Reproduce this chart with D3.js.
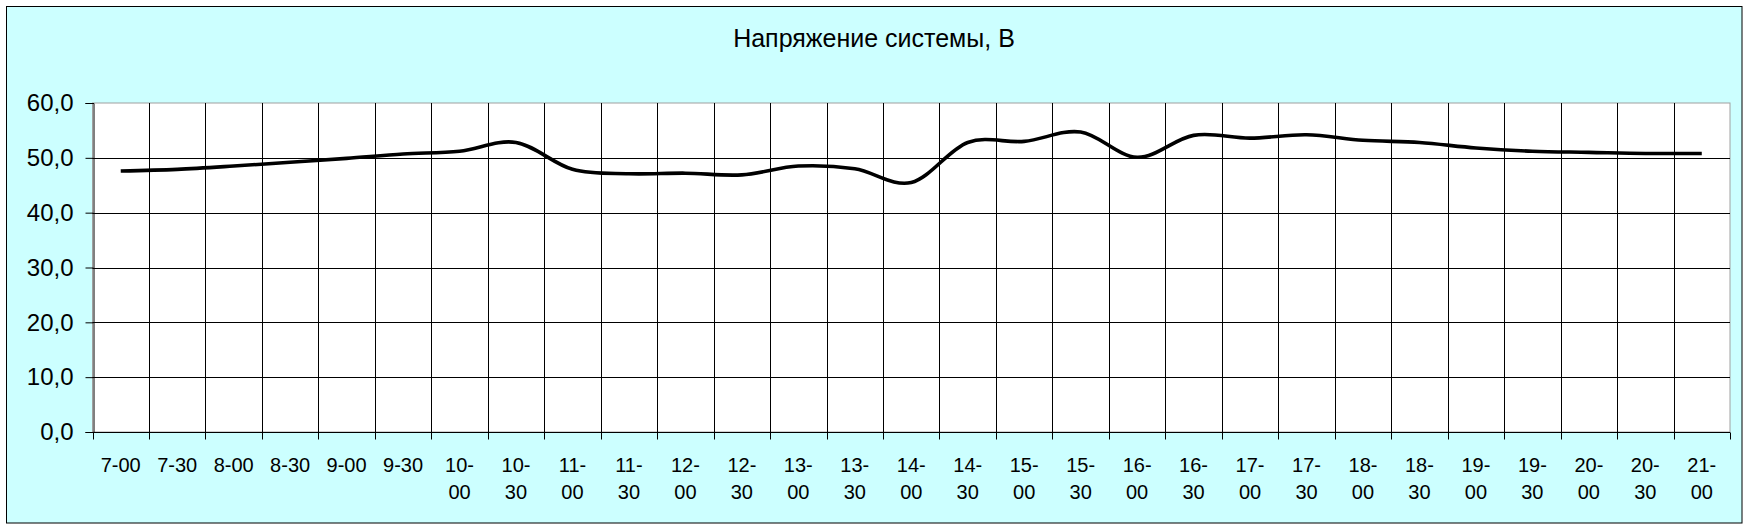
<!DOCTYPE html>
<html>
<head>
<meta charset="utf-8">
<script src="https://cdn.jsdelivr.net/npm/d3@7"></script>
<style>
  html, body { margin: 0; padding: 0; background: #ffffff; }
  svg { display: block; font-family: "Liberation Sans", Arial, sans-serif; }
</style>
</head>
<body>
<svg id="chart" width="1750" height="530"></svg>
<script>
const title = "Напряжение системы, В";
const categories = ["7-00","7-30","8-00","8-30","9-00","9-30","10-00","10-30","11-00","11-30",
  "12-00","12-30","13-00","13-30","14-00","14-30","15-00","15-30","16-00","16-30",
  "17-00","17-30","18-00","18-30","19-00","19-30","20-00","20-30","21-00"];
const voltage = [47.6, 47.9, 48.5, 49.2, 49.9, 50.7, 51.2, 52.8, 47.9, 47.1,
  47.2, 46.9, 48.5, 48.0, 45.5, 52.8, 53.0, 54.7, 50.1, 54.1,
  53.6, 54.2, 53.2, 52.8, 51.8, 51.2, 51.0, 50.8, 50.8];
const yTicks = [0, 10, 20, 30, 40, 50, 60];

const svg = d3.select("#chart");
const plot = { left: 92.5, right: 1730, top: 103, bottom: 432 };

// chart background + border
svg.append("rect").attr("x", 6.5).attr("y", 6.5).attr("width", 1735.5).attr("height", 516.5)
  .attr("fill", "#ccffff").attr("stroke", "#000").attr("stroke-width", 1);

svg.append("text").attr("x", 874).attr("y", 47).attr("text-anchor", "middle")
  .attr("font-size", 25).attr("fill", "#000").text(title);

const x = d3.scaleBand().domain(categories).range([plot.left, plot.right]).padding(0);
const y = d3.scaleLinear().domain([0, 60]).range([plot.bottom, plot.top]);

// plot area
svg.append("rect").attr("x", plot.left).attr("y", plot.top)
  .attr("width", plot.right - plot.left).attr("height", plot.bottom - plot.top)
  .attr("fill", "#ffffff").attr("stroke", "#a0a0a0").attr("stroke-width", 1);

// horizontal gridlines
svg.append("g").selectAll("line").data(yTicks.filter(d => d > 0 && d < 60)).join("line")
  .attr("x1", plot.left).attr("x2", plot.right)
  .attr("y1", d => Math.round(y(d)) + 0.5).attr("y2", d => Math.round(y(d)) + 0.5)
  .attr("stroke", "#000").attr("stroke-width", 1);

// vertical gridlines at category boundaries
const bounds = categories.slice(1).map(c => x(c));
svg.append("g").selectAll("line").data(bounds).join("line")
  .attr("x1", d => Math.round(d) + 0.5).attr("x2", d => Math.round(d) + 0.5)
  .attr("y1", plot.top).attr("y2", plot.bottom)
  .attr("stroke", "#000").attr("stroke-width", 1);

// y axis
const yAxis = d3.axisLeft(y).tickValues(yTicks).tickSize(8).tickPadding(12)
  .tickFormat(d => d3.format(".1f")(d).replace(".", ","));
const gy = svg.append("g").attr("transform", `translate(${Math.round(plot.left) + 0.5},0)`).call(yAxis);
gy.select(".domain").attr("stroke", "#000");
gy.selectAll(".tick line").attr("stroke", "#000");
gy.selectAll(".tick text").attr("font-size", 24).attr("fill", "#000")
  .attr("font-family", "'Liberation Sans', Arial, sans-serif");

// x axis: ticks at category boundaries
const gx = svg.append("g").attr("transform", `translate(0,${Math.round(plot.bottom) + 0.5})`);
const allBounds = categories.map(c => x(c)).concat([plot.right]);
gx.append("line").attr("x1", plot.left).attr("x2", plot.right).attr("y1", 0).attr("y2", 0)
  .attr("stroke", "#000");
gx.selectAll("line.tk").data(allBounds).join("line").attr("class", "tk")
  .attr("x1", d => Math.round(d) + 0.5).attr("x2", d => Math.round(d) + 0.5)
  .attr("y1", 0).attr("y2", 7).attr("stroke", "#000");
const lbl = gx.selectAll("text").data(categories).join("text")
  .attr("text-anchor", "middle").attr("font-size", 20).attr("fill", "#000")
  .attr("transform", d => `translate(${x(d) + x.bandwidth() / 2},0)`);
lbl.each(function(d) {
  const t = d3.select(this);
  const parts = d.split("-");
  if (parts[0].length === 1) {
    t.append("tspan").attr("x", 0).attr("y", 39).text(d);
  } else {
    t.append("tspan").attr("x", 0).attr("y", 39).text(parts[0] + "-");
    t.append("tspan").attr("x", 0).attr("y", 66).text(parts[1]);
  }
});

// line
const line = d3.line()
  .x((d, i) => x(categories[i]) + x.bandwidth() / 2)
  .y(d => y(d))
  .curve(d3.curveCardinal.tension(0));
svg.append("path").datum(voltage).attr("d", line)
  .attr("fill", "none").attr("stroke", "#000").attr("stroke-width", 3.6)
  .attr("stroke-linejoin", "round");
</script>
</body>
</html>
